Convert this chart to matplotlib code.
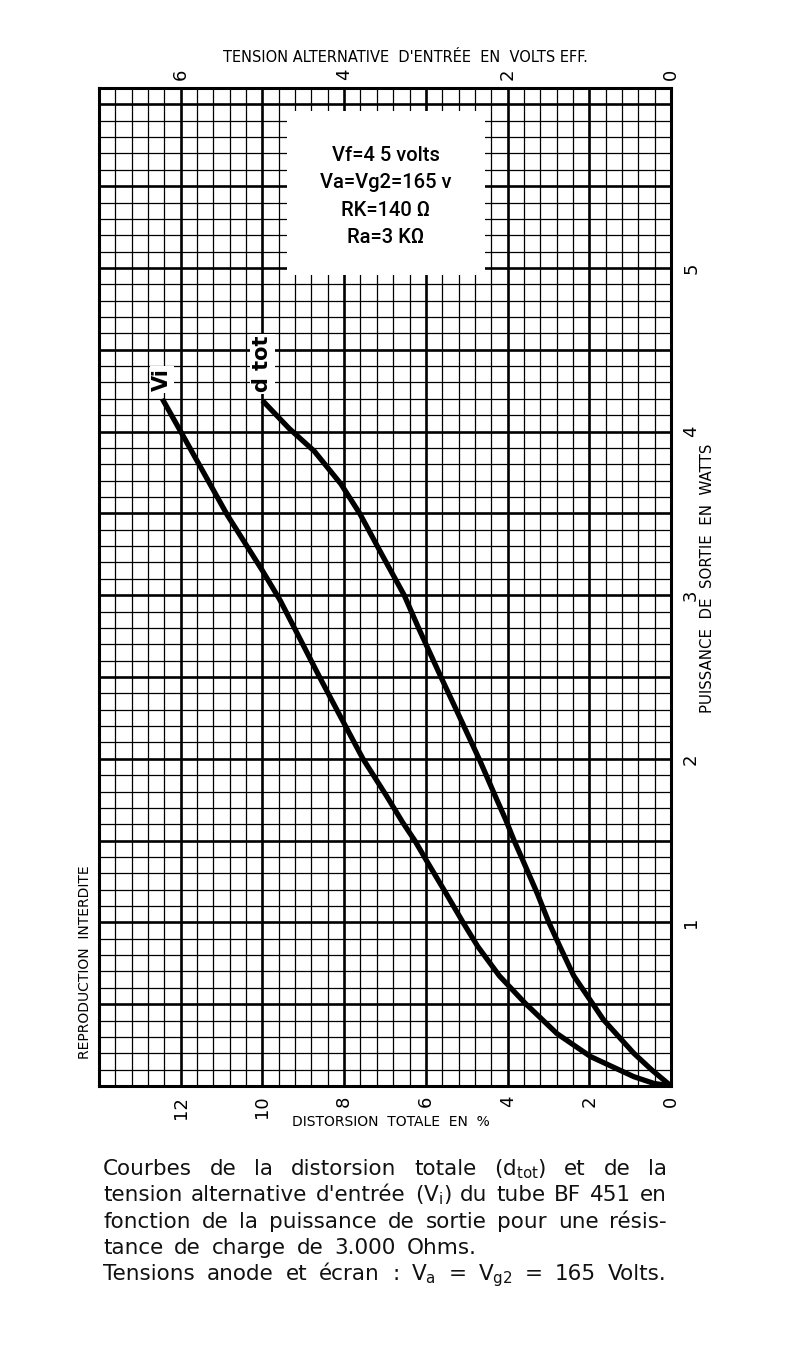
import matplotlib.pyplot as plt
import numpy as np
from matplotlib.ticker import MultipleLocator, FixedLocator, FuncFormatter
from matplotlib.patches import Rectangle

plt.rcParams['font.family'] = ['DejaVu Sans']
plt.rcParams['mathtext.fontset'] = 'dejavusans'

# data
# total distortion (%) against output power (W)
p_dtot = [0, 0.098, 0.20, 0.302, 0.404, 0.50, 0.673, 0.853, 1.00, 1.175, 1.376,
          1.50, 1.63, 1.777, 1.99, 2.286, 2.494, 2.80, 3.00, 3.25, 3.50, 3.68,
          3.88, 4.02, 4.19]
dtot = [0, 0.47, 0.91, 1.28, 1.65, 1.91, 2.38, 2.72, 2.99, 3.27, 3.62,
        3.84, 4.05, 4.31, 4.68, 5.23, 5.62, 6.18, 6.53, 7.08, 7.62, 8.08,
        8.73, 9.35, 10.0]

# input voltage (V eff) against output power (W)
p_vi = [0, 0.016, 0.057, 0.18, 0.32, 0.506, 0.673, 0.853, 1.00, 1.175, 1.376,
        1.50, 1.612, 1.776, 2.00, 2.286, 2.494, 2.796, 2.97, 3.15, 3.49, 4.00, 4.20]
vi = [0, 0.21, 0.455, 0.985, 1.395, 1.785, 2.10, 2.365, 2.545, 2.75, 2.99,
      3.135, 3.285, 3.485, 3.77, 4.075, 4.295, 4.605, 4.785, 5.0, 5.43, 6.0, 6.225]

dist_ticks = [0, 2, 4, 6, 8, 10, 12]
volt_ticks = [0, 2, 4, 6]
watt_labels = [1, 2, 3, 4, 5]

box_lines = ["Vf=4 5 volts", "Va=Vg2=165 v", "RK=140 Ω", "Ra=3 KΩ"]

W, H = 796, 1361
fig = plt.figure(figsize=(W/100, H/100), dpi=100)
ax = fig.add_axes([99/W, 1-1086/H, (671-99)/W, (1086-88)/H])

ax.set_xlim(14, 0)
ax.set_ylim(0, 6.1)

# graph paper
ax.xaxis.set_major_locator(MultipleLocator(2))
ax.xaxis.set_minor_locator(MultipleLocator(0.4))
ax.yaxis.set_major_locator(MultipleLocator(0.5))
ax.yaxis.set_minor_locator(MultipleLocator(0.1))
ax.grid(which='major', color='black', lw=1.9)
ax.grid(which='minor', color='black', lw=0.9)
ax.set_axisbelow(True)
for s in ax.spines.values():
    s.set_linewidth(2.2)

ax.xaxis.set_major_formatter(FuncFormatter(
    lambda v, p: f"{v:.0f}" if round(v) in dist_ticks else ""))
ax.yaxis.tick_right()
ax.yaxis.set_major_formatter(FuncFormatter(
    lambda v, p: f"{v:.0f}" if abs(v - round(v)) < 1e-6 and round(v) in watt_labels else ""))
ax.tick_params(which='both', length=0)
ax.tick_params(axis='x', which='major', labelsize=13, rotation=90, pad=7)
ax.tick_params(axis='y', which='major', labelsize=13, labelrotation=90, pad=8)
for t in ax.get_yticklabels():
    t.set_va('center')

# white box with the operating conditions
ax.add_patch(Rectangle((4.55, 4.96), 9.4 - 4.55, 5.96 - 4.96, facecolor='white',
                       edgecolor='none', zorder=1))
for i, line in enumerate(box_lines):
    ax.text(6.98, 5.69 - i * 0.168, line, ha='center', va='center', fontsize=14.5,
            family=['Roboto', 'DejaVu Sans'], fontweight='medium', zorder=4)

ax.plot(dtot, p_dtot, color='black', lw=3.8, solid_capstyle='butt',
        solid_joinstyle='round', zorder=3)

# top axis in volts
ax2 = ax.twiny()
ax2.set_xlim(7, 0)
ax2.set_ylim(0, 6.1)
ax2.xaxis.set_major_locator(FixedLocator(volt_ticks))
ax2.xaxis.set_major_formatter(FuncFormatter(lambda v, p: f"{v:.0f}"))
ax2.tick_params(axis='x', length=0, labelsize=13, rotation=90, pad=6)
for s in ax2.spines.values():
    s.set_visible(False)
ax2.plot(vi, p_vi, color='black', lw=3.8, solid_capstyle='butt',
         solid_joinstyle='round', zorder=3)

lab_kw = dict(rotation=90, ha='center', va='bottom', fontsize=15, fontweight='bold',
              bbox=dict(facecolor='white', edgecolor='none', pad=1.5), zorder=5)
ax2.text(vi[-1], p_vi[-1] + 0.05, "Vi", **lab_kw)
ax.text(dtot[-1], p_dtot[-1] + 0.05, "d tot", **lab_kw)

# axis titles
fig.text(405/W, 1-58/H, "TENSION ALTERNATIVE  D'ENTRÉE  EN  VOLTS EFF.",
         ha='center', va='center', fontsize=10.5)
fig.text(391/W, 1-1122/H, "DISTORSION  TOTALE  EN  %", ha='center', va='center',
         fontsize=10)
fig.text(707/W, 1-578/H, "PUISSANCE  DE  SORTIE  EN  WATTS", ha='center', va='center',
         fontsize=10.8, rotation=90)
fig.text(85/W, 1-962/H, "REPRODUCTION  INTERDITE", ha='center', va='center',
         fontsize=10, rotation=90)

# caption, justified between x0 and x1 (pixels)
cap_kw = dict(fontsize=15.5, va='baseline', color='#111111')
x0, x1 = 103, 667
caption = [
    (["Courbes", "de", "la", "distorsion", "totale", r"(d$\mathregular{_{tot}}$)",
      "et", "de", "la"], True),
    (["tension", "alternative", "d'entrée", r"(V$\mathregular{_i}$)", "du", "tube",
      "BF", "451", "en"], True),
    (["fonction", "de", "la", "puissance", "de", "sortie", "pour", "une", "résis-"], True),
    (["tance", "de", "charge", "de", "3.000", "Ohms."], False),
    (["Tensions", "anode", "et", "écran", ":", r"V$\mathregular{_a}$", "=",
      r"V$\mathregular{_{g2}}$", "=", "165", "Volts."], True),
]
fig.canvas.draw()
renderer = fig.canvas.get_renderer()
for i, (words, just) in enumerate(caption):
    y = 1 - (1175 + i * 26.3) / H
    texts = [fig.text(0, y, w, **cap_kw) for w in words]
    widths = [t.get_window_extent(renderer).width for t in texts]
    gap = (x1 - x0 - sum(widths)) / (len(words) - 1) if just else 11
    x = x0
    for t, w in zip(texts, widths):
        t.set_x(x / W)
        x += w + gap

fig.savefig('out.png', dpi=100)
